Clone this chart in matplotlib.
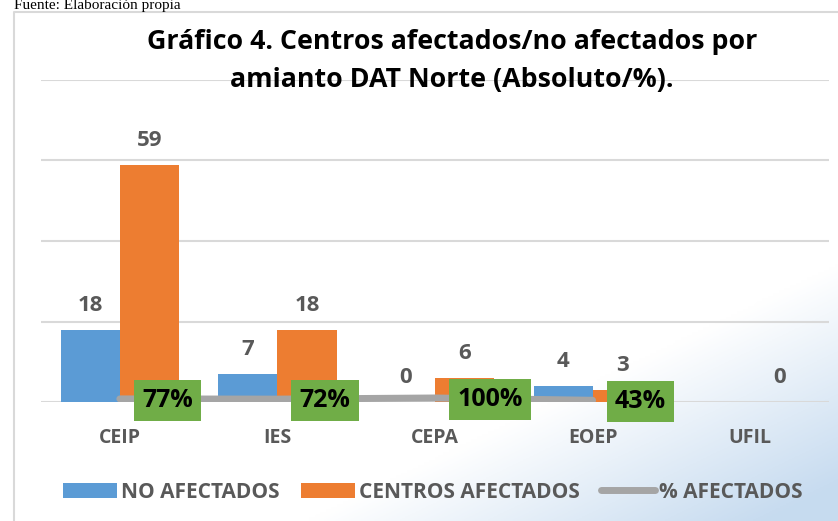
import numpy as np
import matplotlib.pyplot as plt

plt.rcParams['font.family'] = ['Open Sans', 'DejaVu Sans']

# datos del grafico
categorias = ['CEIP', 'IES', 'CEPA', 'EOEP', 'UFIL']
no_afectados = [18, 7, 0, 4, np.nan]
afectados = [59, 18, 6, 3, 0]
pct_afectados = [0.77, 0.72, 1.00, 0.43, np.nan]
pct_labels = ['77%', '72%', '100%', '43%', '']

azul = '#5B9BD5'
naranja = '#ED7D31'
gris = '#A5A5A5'
verde = '#70AD47'
texto = '#595959'

fig = plt.figure(figsize=(8.38, 5.21), dpi=100)

# fondo con degradado suave abajo a la derecha
bg = fig.add_axes([0, 0, 1, 1], zorder=-10)
yy, xx = np.mgrid[0:1:200j, 0:1:300j]
d = np.clip((xx - 0.55) / 0.45 + (0.35 - yy) / 0.35 - 0.6, 0, None)
grad = np.clip(d / 1.2, 0, 1)
img = np.ones((200, 300, 3))
c = np.array([0.78, 0.86, 0.94])
img = img * (1 - grad[..., None]) + c * grad[..., None]
bg.imshow(img, origin='lower', extent=[0, 1, 0, 1], aspect='auto')
bg.set_xlim(0, 1)
bg.set_ylim(0, 1)
bg.axis('off')
# marco del grafico
bg.plot([14 / 838, 14 / 838, 1.0], [0, 1 - 12 / 521, 1 - 12 / 521], color='#D9D9D9', lw=1.5)

fig.text(14 / 838, 1 - 9 / 521, 'Fuente: Elaboración propia', family='Liberation Serif',
         fontsize=11, va='baseline', ha='left', color='black')

ax = fig.add_axes([41 / 838, 119 / 521, 788 / 838, 322 / 521])
ax.patch.set_alpha(0)
x = np.arange(len(categorias))
w = 0.375
b1 = ax.bar(x - w / 2, no_afectados, w, color=azul, label='NO AFECTADOS', zorder=2)
b2 = ax.bar(x + w / 2, afectados, w, color=naranja, label='CENTROS AFECTADOS', zorder=2)
ax.plot(x, pct_afectados, color=gris, lw=5, solid_capstyle='round', label='% AFECTADOS', zorder=3)

for xi, v in zip(x - w / 2, no_afectados):
    if not np.isnan(v):
        ax.annotate(f'{v:.0f}', (xi, v), xytext=(0, 10), textcoords='offset points',
                    ha='center', va='bottom', fontsize=16, fontweight='bold', color=texto)
for xi, v in zip(x + w / 2, afectados):
    ax.annotate(f'{v:.0f}', (xi, v), xytext=(0, 10), textcoords='offset points',
                ha='center', va='bottom', fontsize=16, fontweight='bold', color=texto)
for xi, v, lab in zip(x, pct_afectados, pct_labels):
    if not np.isnan(v):
        ax.annotate(lab, (xi, v), xytext=(16, -1), textcoords='offset points',
                    ha='left', va='center', fontsize=18, fontweight='bold', color='black',
                    zorder=5,
                    bbox=dict(boxstyle='square,pad=0.33', fc=verde, ec='none'))

ax.set_xlim(-0.5, 4.5)
ax.set_ylim(0, 80)
ax.set_yticks([0, 20, 40, 60, 80])
ax.yaxis.grid(True, color='#D9D9D9', lw=1.5, zorder=0)
ax.set_axisbelow(True)
ax.tick_params(axis='y', left=False, labelleft=False)
ax.tick_params(axis='x', bottom=False, pad=15)
ax.set_xticks(x)
ax.set_xticklabels(categorias, fontsize=14, fontweight='bold', color=texto)
for s in ax.spines.values():
    s.set_visible(False)

fig.text(452 / 838, 1 - 42 / 521, 'Gráfico 4. Centros afectados/no afectados por',
         ha='center', va='center', fontsize=19.3, fontweight='bold', color='black')
fig.text(452 / 838, 1 - 80 / 521, 'amianto DAT Norte (Absoluto/%).',
         ha='center', va='center', fontsize=19.3, fontweight='bold', color='black')

leg = fig.legend(handles=[b1, b2, ax.lines[0]], loc='center', bbox_to_anchor=(433 / 838, 1 - 492 / 521),
                 ncol=3, frameon=False, prop={'weight': 'bold', 'size': 15},
                 handlelength=2.6, handleheight=0.7, handletextpad=0.2, columnspacing=1.0)
for t in leg.get_texts():
    t.set_color(texto)

fig.savefig('out.png', dpi=100)
